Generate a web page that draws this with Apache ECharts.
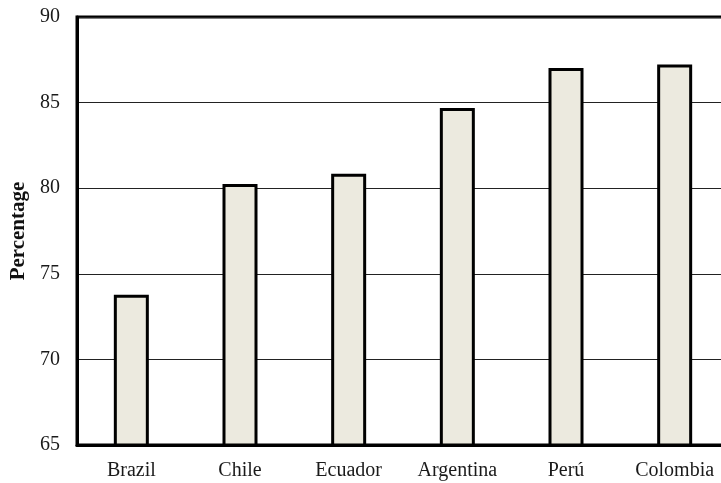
<!DOCTYPE html>
<html><head><meta charset="utf-8">
<script src="https://cdn.jsdelivr.net/npm/echarts@6/dist/echarts.min.js"></script>
<style>html,body{margin:0;padding:0;background:#fff}#c{width:721px;height:483px}</style>
</head><body><div id="c"></div>
<script>
const categories = ["Brazil", "Chile", "Ecuador", "Argentina", "Perú", "Colombia"];
const percentages = [73.77, 80.25, 80.84, 84.68, 87.02, 87.22];
const yTicks = [65, 70, 75, 80, 85, 90];

const font = '"Liberation Serif", "Times New Roman", serif';
const chart = echarts.init(document.getElementById('c'));
chart.setOption({
  animation: false,
  backgroundColor: '#fff',
  grid: { left: 77, top: 17, width: 652, height: 428, outerBoundsMode: 'none', containLabel: false,
          show: true, borderColor: '#000', borderWidth: 3, backgroundColor: 'transparent' },
  xAxis: {
    type: 'category', data: categories,
    axisLine: { show: true, lineStyle: { color: '#000', width: 3 } },
    axisTick: { show: false },
    axisLabel: { color: '#1a1a1a', fontFamily: font, fontSize: 20, margin: 16 }
  },
  yAxis: {
    type: 'value', min: yTicks[0], max: yTicks[yTicks.length - 1], interval: 5,
    name: 'Percentage', nameLocation: 'middle', nameGap: 47, nameRotate: 90,
    nameTextStyle: { fontFamily: font, fontSize: 21, fontWeight: 'bold', color: '#111' },
    axisLine: { show: true, lineStyle: { color: '#000', width: 3 } },
    axisTick: { show: false },
    splitLine: { show: true, lineStyle: { color: '#222', width: 1.2 } },
    axisLabel: { color: '#1a1a1a', fontFamily: font, fontSize: 20, margin: 17 }
  },
  series: [{
    type: 'bar', data: percentages, barWidth: 35,
    itemStyle: { color: '#ECEADF', borderColor: '#000', borderWidth: 3 }
  }]
});
</script></body></html>
